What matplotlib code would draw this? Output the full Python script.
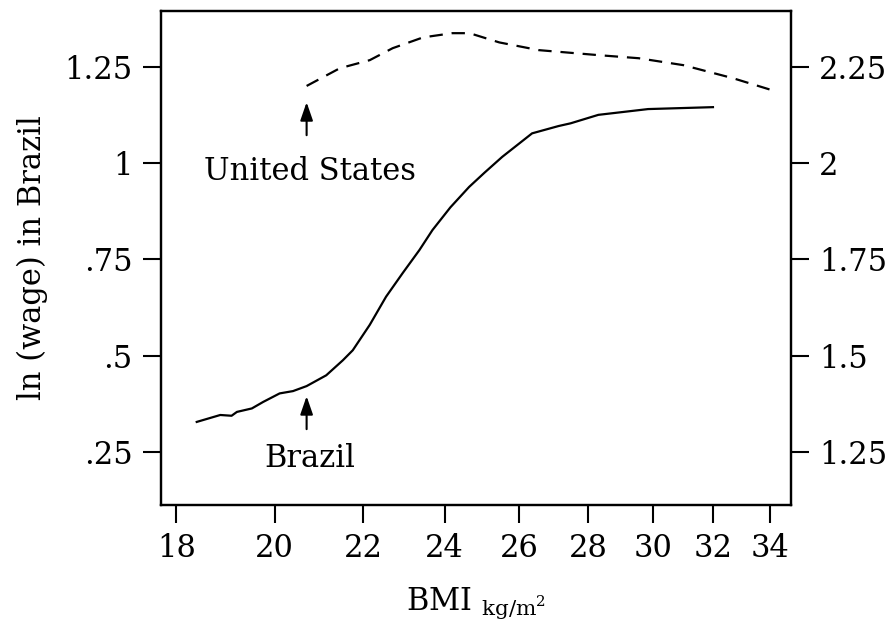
import matplotlib
matplotlib.use("Agg")
import matplotlib.pyplot as plt
from matplotlib.ticker import FixedLocator, NullLocator

plt.rcParams["font.family"] = "DejaVu Serif"
plt.rcParams["mathtext.fontset"] = "dejavuserif"

# Brazil: ln(wage) against BMI (left axis)
bmi_brazil = [18.40, 18.87, 19.10, 19.21, 19.52, 19.76, 20.11, 20.40, 20.70, 21.14,
              21.52, 21.75, 22.15, 22.54, 22.95, 23.36, 23.69, 24.15, 24.64, 25.05,
              25.53, 26.36, 27.12, 27.47, 28.30, 29.85, 32.0]
wage_brazil = [0.328, 0.346, 0.344, 0.354, 0.363, 0.380, 0.402, 0.408, 0.421, 0.449,
               0.488, 0.514, 0.580, 0.653, 0.715, 0.774, 0.826, 0.885, 0.938, 0.975,
               1.016, 1.077, 1.096, 1.103, 1.125, 1.140, 1.145]

# United States: ln(wage) against BMI (right axis)
bmi_us = [20.7, 21.45, 22.15, 22.7, 23.45, 24.2, 24.65, 25.45, 26.55, 28.3,
          29.55, 31.0, 32.7, 34.0]
wage_us = [2.200, 2.246, 2.267, 2.298, 2.326, 2.337, 2.337, 2.313, 2.293, 2.280,
           2.272, 2.254, 2.220, 2.191]

bmi_ticks = [18, 20, 22, 24, 26, 28, 30, 32, 34]
left_ticks = [0.25, 0.5, 0.75, 1.0, 1.25]
left_labels = [".25", ".5", ".75", "1", "1.25"]
right_ticks = [1.25, 1.5, 1.75, 2.0, 2.25]
right_labels = ["1.25", "1.5", "1.75", "2", "2.25"]

fs = 22

fig = plt.figure(figsize=(8.92, 6.37), dpi=100)
ax = fig.add_axes([0.180, 0.207, 0.707, 0.776])
ax2 = ax.twinx()

ax.plot(bmi_brazil, wage_brazil, color="black", linewidth=1.6)
ax2.plot(bmi_us, wage_us, color="black", linewidth=1.6, linestyle=(0, (6, 4)))

ax.set_xscale("log")
ax.set_xlim(17.7, 34.8)
ax.set_ylim(0.112, 1.395)
ax2.set_ylim(1.112, 2.395)

ax.xaxis.set_major_locator(FixedLocator(bmi_ticks))
ax.xaxis.set_minor_locator(NullLocator())
ax.set_xticklabels([str(t) for t in bmi_ticks])
ax.set_yticks(left_ticks)
ax.set_yticklabels(left_labels)
ax2.set_yticks(right_ticks)
ax2.set_yticklabels(right_labels)

for a in (ax, ax2):
    a.tick_params(direction="out", length=13, width=1.5, labelsize=fs, pad=7)
    for s in a.spines.values():
        s.set_linewidth(1.6)

ax.set_ylabel("ln (wage) in Brazil", fontsize=fs, labelpad=12)
ax.set_xlabel(r"BMI $_{\mathregular{kg/m^2}}$", fontsize=fs, labelpad=16)

# arrows pointing at the start of each curve
arrow = dict(arrowstyle="-|>,head_length=1.1,head_width=0.38", color="black", lw=1.5)
ax2.annotate("", xy=(20.7, 2.165), xytext=(20.7, 2.065), arrowprops=arrow)
ax2.text(20.77, 1.956, "United States", fontsize=fs, ha="center", va="baseline")
ax.annotate("", xy=(20.7, 0.402), xytext=(20.7, 0.302), arrowprops=arrow)
ax.text(20.77, 0.210, "Brazil", fontsize=fs, ha="center", va="baseline")

fig.savefig("out.png", dpi=100)
